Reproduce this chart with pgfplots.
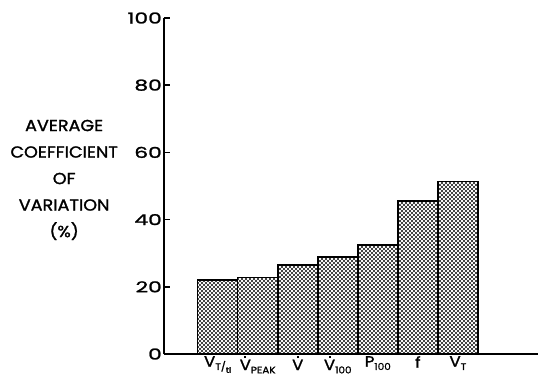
\documentclass[border=0pt]{standalone}
\usepackage{pgfplots}
\pgfplotsset{compat=1.18}
\usepackage{fontspec}
\setmainfont{Poppins}[FakeStretch=1.1, FakeBold=1.5]
\usetikzlibrary{patterns}
\pgfdeclarepatternformonly{bigdots}{\pgfpoint{-1.2pt}{-1.2pt}}{\pgfpoint{3.2pt}{3.2pt}}{\pgfpoint{4pt}{4pt}}{%
  \pgfpathcircle{\pgfpoint{0pt}{0pt}}{1.1pt}%
  \pgfpathcircle{\pgfpoint{2pt}{2pt}}{1.1pt}%
  \pgfusepath{fill}}
\newcommand{\Vd}{\leavevmode\setbox0\hbox{V}\hbox to\wd0{\hss\raisebox{0.8em}{\rule{1.9pt}{1.9pt}}\hss}\kern-\wd0 V}
\newcommand{\sub}[1]{\raisebox{-0.22em}{\fontsize{9.5}{9.5}\selectfont #1}}
\newcommand{\subb}[1]{\raisebox{-0.3em}{\fontsize{8}{8}\selectfont #1}}
\begin{document}
\begin{tikzpicture}
\begin{axis}[
  width=374pt, height=336pt, scale only axis,
  xmin=-1.34, xmax=8, ymin=0, ymax=100,
  axis x line=bottom, axis y line=left,
  axis line style={-, line width=1.4pt},
  ytick={0,20,40,60,80,100},
  xtick={0,1,2,3,4,5,6},
  xticklabels={{V\sub{T/\subb{tI}}},{\Vd\sub{PEAK}},{\Vd},{\Vd\sub{100}},{P\sub{100}},{f},{V\sub{T}}},
  x tick style={draw=none},
  y tick style={line width=1.4pt, black},
  tick align=inside, major tick length=6pt,
  /pgf/number format/assume math mode=true,
  yticklabel style={font=\fontsize{15}{15}\selectfont\addfontfeature{FakeStretch=1.45}, inner sep=2pt},
  xticklabel style={font=\fontsize{15}{15}\selectfont, inner xsep=0pt, inner ysep=2pt},
  ylabel={AVERAGE\\COEFFICIENT\\OF\\VARIATION\\(\%)},
  every axis y label/.style={at={(axis description cs:-0.267,0.518)}, anchor=center, align=center, font=\fontsize{16}{26.5}\selectfont},
  clip=false,
]
\addplot[ybar, bar width=1, draw=black, line width=1.6pt, pattern=bigdots] coordinates {(0,22.0) (1,22.8) (2,26.5) (3,28.8) (4,32.4) (5,45.5) (6,51.3)};
\end{axis}
\path (-164pt,-27pt) rectangle (381pt,354pt);
\end{tikzpicture}
\end{document}
